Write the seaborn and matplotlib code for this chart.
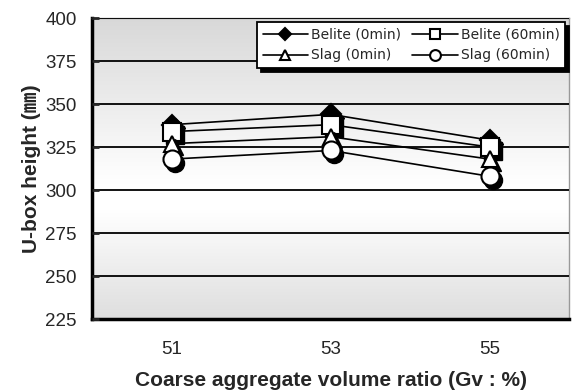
import numpy as np
import pandas as pd
import seaborn as sns
import matplotlib.pyplot as plt
from matplotlib.colors import LinearSegmentedColormap
from matplotlib.transforms import ScaledTranslation

# data
gv = ["51", "53", "55"]
belite_0 = [338, 344, 329]
belite_60 = [334, 338, 325]
slag_0 = [327, 331, 318]
slag_60 = [318, 323, 308]

series = ["Belite (0min)", "Belite (60min)", "Slag (0min)", "Slag (60min)"]
values = [belite_0, belite_60, slag_0, slag_60]
markers = ["D", "s", "^", "o"]
faces = ["black", "white", "white", "white"]
sizes = [10, 13, 12, 13]

df = pd.DataFrame({
    "gv": gv * 4,
    "height": sum(values, []),
    "series": np.repeat(series, 3),
})

sns.set_style("white")
plt.rcParams["font.family"] = ["Liberation Sans", "Noto Sans CJK KR", "DejaVu Sans"]

fig = plt.figure(figsize=(5.72, 3.92), dpi=100)
ax = fig.add_axes([0.161, 0.186, 0.834, 0.768])

# grey-white-grey background gradient
bg = LinearSegmentedColormap.from_list(
    "bg", [(0, "#dedede"), (0.36, "#ffffff"), (0.45, "#ffffff"), (1, "#d8d8d8")])
grad = np.linspace(0, 1, 256).reshape(-1, 1)
ax.imshow(grad, cmap=bg, aspect="auto", extent=[0, 1, 0, 1],
          transform=ax.transAxes, zorder=0, origin="lower")

shadow = ax.transData + ScaledTranslation(2.5 / 72, -2.5 / 72, fig.dpi_scale_trans)

for i, name in enumerate(series):
    sub = df[df["series"] == name]
    sns.lineplot(data=sub, x="gv", y="height", ax=ax, color="black", lw=1.2,
                 marker=markers[i], markersize=sizes[i], markerfacecolor=faces[i],
                 markeredgecolor="black", markeredgewidth=1.5, label=name,
                 zorder=3 + 2 * i, sort=False)
    ax.plot(sub["gv"], sub["height"], ls="none", marker=markers[i],
            markersize=sizes[i], color="black", transform=shadow,
            zorder=2.5 + 2 * i)

ax.set_xlim(-0.5, 2.5)
ax.set_ylim(225, 400)
ax.set_yticks(range(225, 401, 25))
ax.set_xticks([0, 1, 2])
ax.set_xticks([0.5, 1.5, 2.5], minor=True)
ax.tick_params(axis="x", which="major", length=0, pad=16, labelsize=13.5)
ax.tick_params(axis="x", which="minor", direction="in", length=5, width=2)
ax.tick_params(axis="y", direction="in", length=5, width=2, pad=11, labelsize=13.5,
               left=True)

ax.yaxis.grid(True, color="black", lw=1.3)
ax.set_axisbelow(False)
for s in ["left", "bottom"]:
    ax.spines[s].set_linewidth(2.5)
    ax.spines[s].set_color("black")
for s in ["top", "right"]:
    ax.spines[s].set_linewidth(1)
    ax.spines[s].set_color("#999999")

ax.set_xlabel("Coarse aggregate volume ratio (Gv : %)", fontsize=15,
              fontweight="bold", labelpad=9)
ax.set_ylabel("U-box height (㎜)", fontsize=15, fontweight="bold", labelpad=3)

# legend filled row by row, as in the original
handles, labels = ax.get_legend_handles_labels()
order = [0, 2, 1, 3]
leg = ax.legend([handles[k] for k in order], [labels[k] for k in order],
                loc="upper right", bbox_to_anchor=(0.992, 0.987), ncol=2,
                borderaxespad=0, fancybox=False, framealpha=1, edgecolor="black",
                shadow={"ox": 3, "oy": -3, "color": "black", "alpha": 1},
                markerscale=0.6, handlelength=3.3, columnspacing=0.8,
                handletextpad=0.2, labelspacing=0.5, borderpad=0.4,
                prop={"family": "DejaVu Sans", "size": 10})
leg.get_frame().set_linewidth(1.3)
leg.set_zorder(20)

fig.savefig("out.png", dpi=100)
